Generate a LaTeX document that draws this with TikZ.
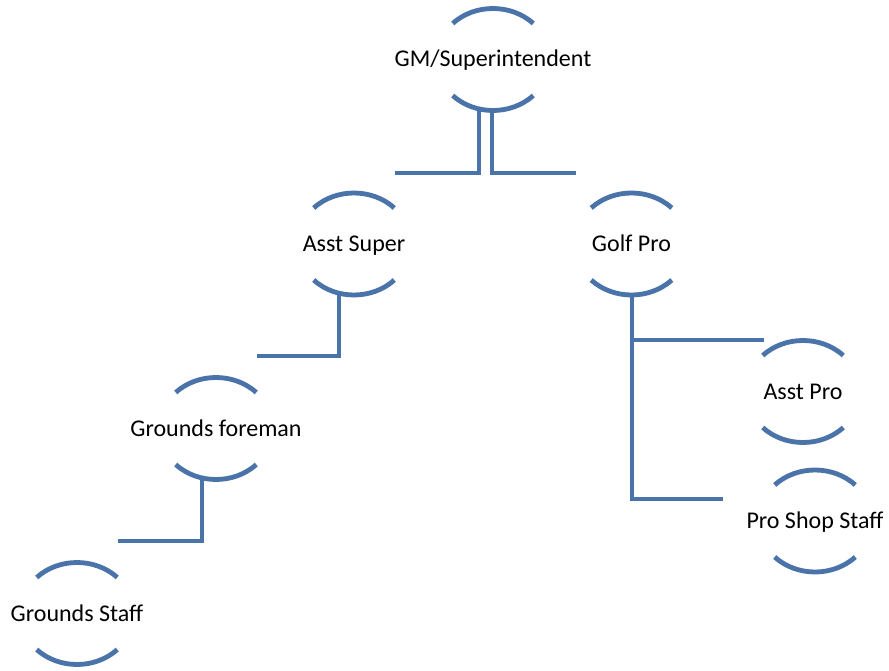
\documentclass[tikz,border=0pt]{standalone}
\usepackage{fontspec}
\setmainfont{Carlito}
\definecolor{lc}{HTML}{4A74A9}
\newcommand\orgnode[4]{%
  \coordinate (#1) at (#2,#3);
  \node[lbl, anchor=base] (#1-t) at ([yshift=-7.5pt]#1) {#4};
  \draw[arcline] ([shift={(135:57pt and 51pt)}]#1) arc[start angle=135,end angle=45,x radius=57pt,y radius=51pt];
  \draw[arcline] ([shift={(225:57pt and 51pt)}]#1) arc[start angle=225,end angle=315,x radius=57pt,y radius=51pt];
}
\begin{document}
\begin{tikzpicture}[x=1pt,y=1pt,
  lbl/.style={inner sep=0pt, font=\fontsize{24}{27}\selectfont},
  arcline/.style={draw=lc, line width=4.8pt},
  conn/.style={draw=lc, line width=4.8pt}]
\useasboundingbox (0,0) rectangle (889,-671);
\fill[white] (0,0) rectangle (889,-671);
\orgnode{gm}{493}{-59.5}{GM/Superintendent}
\orgnode{as}{354}{-244}{Asst Super}
\orgnode{gp}{631.5}{-244}{Golf Pro}
\orgnode{ap}{803}{-391.5}{Asst Pro}
\orgnode{ps}{815}{-521}{Pro Shop Staff}
\orgnode{gf}{216}{-428.5}{Grounds foreman}
\orgnode{gs}{77}{-613.5}{Grounds Staff}
\coordinate (gmL) at (395,-173);
\coordinate (gmR) at (576,-173);
\coordinate (asE) at (257,-356);
\coordinate (gfE) at (118,-541);
\coordinate (gpA) at (764,-340);
\coordinate (gpB) at (723,-499);
\draw[conn] ([shift={(-14pt,-51pt)}]gm) |- (gmL);
\draw[conn] ([shift={(-1pt,-51pt)}]gm) |- (gmR);
\draw[conn] ([shift={(-15pt,-51pt)}]as) |- (asE);
\draw[conn] ([shift={(-14pt,-51pt)}]gf) |- (gfE);
\draw[conn] ([shift={(0.5pt,-51pt)}]gp) |- (gpB);
\draw[conn] ([shift={(0.5pt,-96pt)}]gp) -- (gpA);
\end{tikzpicture}
\end{document}
